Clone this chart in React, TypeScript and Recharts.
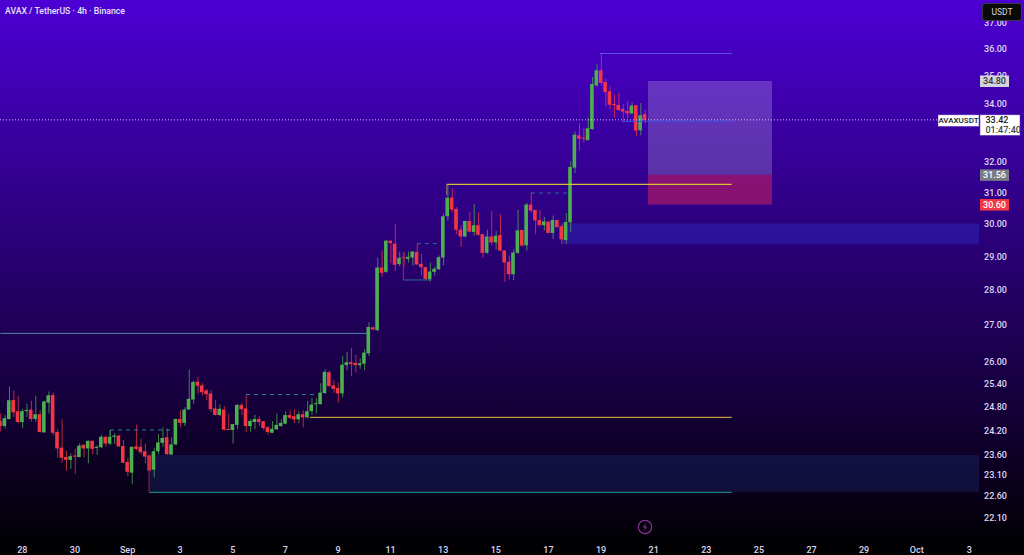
import React from 'react';
import {
  ComposedChart,
  Bar,
  Cell,
  XAxis,
  YAxis,
  ReferenceArea,
  ReferenceLine
} from 'recharts';

// 4h candles, oldest first
const opens = [
  24.43, 24.30, 24.48, 24.97, 24.68, 24.40, 24.68, 24.72, 24.48, 24.60, 24.14, 24.90, 25.10, 24.15, 23.76, 23.53,
  23.46, 23.55, 23.53, 23.83, 23.74, 23.93, 23.75, 23.77, 24.03, 23.86, 24.03, 24.06, 23.80, 23.41, 23.15, 23.79,
  23.78, 23.67, 23.57, 23.22, 23.67, 23.88, 24.02, 23.59, 23.84, 24.48, 24.38, 24.72, 24.98, 25.45, 25.35, 25.22,
  25.14, 24.75, 24.58, 24.72, 24.22, 24.20, 24.33, 24.84, 24.75, 24.30, 24.40, 24.48, 24.42, 24.27, 24.13, 24.22,
  24.30, 24.36, 24.58, 24.55, 24.47, 24.60, 24.52, 24.68, 24.86, 24.86, 25.15, 25.70, 25.35, 25.28, 25.14, 25.89,
  25.97, 25.95, 25.89, 25.93, 26.21, 26.93, 26.85, 28.66, 28.53, 29.47, 29.38, 28.76, 28.96, 28.92, 28.96, 29.13,
  28.77, 28.67, 28.31, 28.53, 28.61, 28.96, 30.23, 30.82, 30.46, 29.81, 29.60, 30.08, 29.74, 29.95, 29.67, 29.10,
  29.60, 29.42, 29.64, 29.17, 28.83, 28.46, 29.10, 29.80, 29.33, 30.60, 30.43, 30.11, 29.95, 30.06, 29.71, 30.11,
  29.92, 29.49, 30.04, 31.80, 32.89, 32.80, 32.72, 33.10, 34.64, 35.19, 34.76, 34.43, 33.97, 33.94, 33.80, 33.73,
  33.64, 33.93, 33.06, 33.62
];
const highs = [
  24.62, 24.58, 25.32, 25.22, 25.07, 24.74, 24.87, 24.95, 25.07, 24.70, 24.95, 25.19, 25.17, 24.22, 24.47, 23.68,
  23.62, 23.73, 23.87, 23.84, 23.94, 23.94, 23.82, 24.08, 24.04, 24.20, 24.12, 24.08, 23.95, 23.51, 23.79, 24.33,
  23.98, 23.86, 23.58, 23.76, 24.10, 24.27, 24.24, 24.02, 24.49, 24.70, 24.78, 25.77, 25.48, 25.58, 25.41, 25.26,
  25.23, 24.96, 24.85, 24.81, 24.60, 24.35, 24.87, 24.89, 25.11, 24.47, 24.59, 24.55, 24.43, 24.30, 24.43, 24.62,
  24.48, 24.68, 24.72, 24.72, 24.68, 24.70, 24.94, 25.02, 25.02, 25.41, 25.78, 25.74, 25.48, 25.42, 26.14, 26.25,
  26.36, 26.17, 26.07, 26.33, 27.07, 26.95, 28.95, 29.17, 29.50, 29.48, 29.98, 29.14, 29.12, 29.14, 29.15, 29.38,
  29.07, 28.67, 28.80, 28.68, 29.02, 30.31, 31.22, 31.12, 30.52, 29.95, 30.10, 30.36, 30.62, 30.35, 29.67, 29.81,
  30.39, 29.77, 30.29, 29.18, 29.02, 29.21, 30.43, 29.80, 30.66, 30.98, 30.43, 30.43, 30.21, 30.06, 30.25, 30.11,
  30.00, 30.33, 32.00, 33.02, 33.29, 33.14, 33.50, 34.94, 35.41, 35.80, 34.88, 34.60, 34.31, 34.38, 33.97, 34.08,
  34.03, 33.93, 34.01, 33.78
];
const lows = [
  24.16, 24.23, 24.47, 24.53, 24.37, 24.25, 24.53, 24.41, 24.41, 24.14, 24.14, 24.62, 24.06, 23.51, 23.39, 23.20,
  23.24, 23.12, 23.52, 23.52, 23.38, 23.60, 23.58, 23.75, 23.78, 23.82, 23.85, 23.78, 23.38, 23.06, 22.87, 23.70,
  23.60, 23.38, 23.20, 23.03, 23.60, 23.78, 23.58, 23.58, 23.81, 24.27, 24.30, 24.72, 24.87, 25.14, 25.10, 24.97,
  24.66, 24.57, 24.55, 24.18, 24.20, 23.86, 24.22, 24.58, 24.15, 24.16, 24.22, 24.30, 24.20, 24.09, 24.12, 24.20,
  24.28, 24.34, 24.48, 24.38, 24.37, 24.27, 24.50, 24.58, 24.62, 24.85, 25.13, 25.32, 25.16, 24.90, 25.03, 25.75,
  25.60, 25.69, 25.79, 25.75, 26.14, 26.85, 26.83, 28.38, 28.50, 28.79, 28.55, 28.70, 28.68, 28.81, 28.72, 28.74,
  28.43, 28.30, 28.24, 28.42, 28.58, 28.73, 30.10, 30.36, 29.67, 29.28, 29.58, 29.73, 29.63, 29.63, 28.95, 29.07,
  29.33, 29.20, 29.15, 28.24, 28.30, 28.28, 29.07, 29.30, 29.16, 30.33, 29.67, 29.94, 29.79, 29.69, 29.52, 29.88,
  29.36, 29.38, 29.74, 31.62, 32.37, 32.64, 32.72, 33.08, 34.60, 34.64, 33.90, 33.79, 33.50, 33.75, 33.33, 33.47,
  33.63, 32.85, 32.89, 33.29
];
const closes = [
  24.30, 24.50, 24.96, 24.65, 24.40, 24.68, 24.71, 24.48, 24.60, 24.15, 24.93, 25.09, 24.13, 23.74, 23.51, 23.46,
  23.55, 23.54, 23.81, 23.74, 23.93, 23.73, 23.78, 24.03, 23.86, 24.03, 24.06, 23.79, 23.39, 23.17, 23.78, 23.73,
  23.65, 23.54, 23.20, 23.67, 23.89, 24.00, 23.60, 23.84, 24.48, 24.38, 24.72, 25.00, 25.44, 25.34, 25.17, 25.12,
  24.73, 24.58, 24.74, 24.21, 24.20, 24.35, 24.84, 24.73, 24.30, 24.43, 24.48, 24.40, 24.25, 24.15, 24.23, 24.33,
  24.38, 24.58, 24.51, 24.47, 24.60, 24.52, 24.68, 24.85, 24.88, 25.16, 25.71, 25.33, 25.26, 25.14, 25.90, 25.97,
  25.92, 25.89, 25.94, 26.23, 26.94, 26.87, 28.66, 28.50, 29.47, 29.40, 28.74, 28.95, 28.94, 28.98, 29.14, 28.75,
  28.67, 28.32, 28.54, 28.62, 28.97, 30.23, 30.82, 30.44, 29.81, 29.60, 30.08, 29.75, 29.95, 29.65, 29.10, 29.60,
  29.42, 29.62, 29.17, 28.81, 28.46, 29.11, 29.79, 29.32, 30.60, 30.41, 30.10, 29.95, 30.07, 29.71, 30.11, 29.89,
  29.51, 30.05, 31.82, 32.91, 32.77, 32.77, 33.13, 34.69, 35.19, 34.73, 34.40, 33.95, 33.94, 33.76, 33.71, 33.65,
  33.92, 33.05, 33.58, 33.42
];

const candles = opens.map((open, i) => ({
  i,
  open,
  close: closes[i],
  wick: [lows[i], highs[i]],
  body: [Math.min(open, closes[i]), Math.max(open, closes[i])]
}));

const dateTicks = [5, 17, 29, 41, 53, 65, 77, 89, 101, 113, 125, 137, 149, 161, 173, 185, 197, 209, 221];
const dateLabels = ['28', '30', 'Sep', '3', '5', '7', '9', '11', '13', '15', '17', '19', '21', '23', '25', '27', '29', 'Oct', '3'];

const priceLabels = [37, 36, 35, 34, 32, 31, 30, 29, 28, 27, 26, 25.4, 24.8, 24.2, 23.6, 23.1, 22.6, 22.1];
const positionTarget = 34.8;
const positionEntry = 31.56;
const positionStop = 30.6;
const lastPrice = 33.42;
const countdown = '01:47:40';

const GREEN = '#4caf50';
const RED = '#f23645';
const ids = { xAxisId: 'body', yAxisId: 'price' };
const FONT = { fontFamily: 'Roboto, sans-serif', fontSize: 9, fontWeight: 500 };

const PriceTick = ({ y, payload }: any) => {
  const v = payload.value;
  const label = v.toFixed(2);
  const left = 980;
  if (v === lastPrice) {
    return (
      <g>
        <rect x={938} y={y - 5} width={41} height={11.5} fill="#fff" stroke="#6a30c0" strokeWidth={0.5} />
        <text x={958.5} y={y + 3.5} textAnchor="middle" fill="#222" style={{ ...FONT, fontSize: 8 }}>AVAXUSDT</text>
        <rect x={left} y={y - 5} width={40} height={20.5} fill="#fff" stroke="#6a30c0" strokeWidth={0.5} />
        <text x={985.5} y={y + 3.5} fill="#222" style={FONT}>{label}</text>
        <text x={985.5} y={y + 13} fill="#444" style={FONT}>{countdown}</text>
      </g>
    );
  }
  const tags: Record<number, [string, string]> = {
    [positionTarget]: ['#d1d4dc', '#333'],
    [positionEntry]: ['#787b86', '#fff'],
    [positionStop]: [RED, '#fff']
  };
  if (tags[v]) {
    return (
      <g>
        <rect x={left} y={y - 5.5} width={29} height={11.5} fill={tags[v][0]} />
        <text x={994.5} y={y + 3.5} textAnchor="middle" fill={tags[v][1]} style={FONT}>{label}</text>
      </g>
    );
  }
  return <text x={995.5} y={y + 3.5} textAnchor="middle" fill="#ded6f2" style={FONT}>{label}</text>;
};

const DateTick = ({ x, y, payload }: any) => (
  <text x={x} y={y + 10} textAnchor="middle" fill="#ded6f2" style={FONT}>
    {dateLabels[dateTicks.indexOf(payload.value)]}
  </text>
);

export default function App() {
  return (
    <div style={{ position: 'absolute', left: 0, top: 0, width: 1024, height: 555, overflow: 'hidden', background: 'linear-gradient(180deg, #4c00d4 0%, #000 100%)' }}>
      <ComposedChart width={1024} height={555} data={candles} margin={{ top: 0, right: 0, bottom: 0, left: 0 }}>
        <XAxis xAxisId="body" type="number" dataKey="i" domain={[-0.09, 223.2]} allowDataOverflow ticks={dateTicks} interval={0} tick={<DateTick />} tickLine={false} axisLine={false} height={20} />
        <XAxis xAxisId="wick" type="number" dataKey="i" domain={[-0.09, 223.2]} allowDataOverflow hide />
        <YAxis
          yAxisId="price"
          orientation="right"
          scale="log"
          domain={[21.695, 37.86]}
          allowDataOverflow
          ticks={[...priceLabels, positionTarget, positionEntry, positionStop, lastPrice]}
          interval={0}
          tick={<PriceTick />}
          tickLine={false}
          axisLine={false}
          width={45}
        />

        {/* drawings under the candles */}
        <ReferenceArea {...ids} x1={33.9} x2={223.2} y1={22.68} y2={23.58} fill="#2a48b0" fillOpacity={0.22} stroke="none" />
        <ReferenceArea {...ids} x1={128.1} x2={223.2} y1={29.36} y2={30.0} fill="#2a3cdc" fillOpacity={0.32} stroke="none" />
        <ReferenceLine {...ids} segment={[{ x: 0, y: 26.76 }, { x: 83.6, y: 26.76 }]} stroke="#4f86a8" strokeWidth={1} />
        <ReferenceLine {...ids} segment={[{ x: 70.6, y: 24.52 }, { x: 166.8, y: 24.52 }]} stroke="#c09a38" strokeWidth={1.2} />
        <ReferenceLine {...ids} segment={[{ x: 33.9, y: 22.68 }, { x: 166.8, y: 22.68 }]} stroke="#1f9a94" strokeWidth={1} />
        <ReferenceLine {...ids} segment={[{ x: 33.9, y: 22.68 }, { x: 33.9, y: 23.58 }]} stroke="#8a2a4a" strokeWidth={1} />
        <ReferenceLine {...ids} segment={[{ x: 25, y: 24.2 }, { x: 39.4, y: 24.2 }]} stroke="#1f8a90" strokeDasharray="4 4" />
        <ReferenceLine {...ids} segment={[{ x: 25, y: 24.2 }, { x: 25, y: 24.03 }]} stroke="#2c8a5a" />
        <ReferenceLine {...ids} segment={[{ x: 56, y: 25.11 }, { x: 72, y: 25.11 }]} stroke="#1f8a90" strokeDasharray="4 4" />
        <ReferenceLine {...ids} segment={[{ x: 95, y: 29.38 }, { x: 100.6, y: 29.38 }]} stroke="#2f6f9a" strokeDasharray="4 4" />
        <ReferenceLine {...ids} segment={[{ x: 121, y: 30.97 }, { x: 129.7, y: 30.97 }]} stroke="#2f6f9a" strokeDasharray="4 4" />
        <ReferenceLine {...ids} segment={[{ x: 91.9, y: 28.29 }, { x: 98.2, y: 28.29 }]} stroke="#2f6f9a" />
        <ReferenceLine {...ids} segment={[{ x: 91.9, y: 28.29 }, { x: 91.9, y: 29.12 }]} stroke="#a02a60" />
        <ReferenceLine {...ids} segment={[{ x: 101.8, y: 31.25 }, { x: 166.8, y: 31.25 }]} stroke="#d6c232" strokeWidth={1.2} />
        <ReferenceLine {...ids} segment={[{ x: 101.8, y: 31.25 }, { x: 101.8, y: 30.9 }]} stroke="#8a7a70" strokeWidth={1} />
        <ReferenceLine {...ids} segment={[{ x: 136.7, y: 35.81 }, { x: 166.8, y: 35.81 }]} stroke="#5f50e0" strokeWidth={1} />
        <ReferenceLine {...ids} segment={[{ x: 141.8, y: 33.37 }, { x: 166.8, y: 33.37 }]} stroke="#3a50e8" strokeWidth={1} />

        <Bar xAxisId="wick" yAxisId="price" dataKey="wick" barSize={1} isAnimationActive={false}>
          {candles.map(c => <Cell key={c.i} fill={c.close >= c.open ? GREEN : RED} fillOpacity={0.75} />)}
        </Bar>
        <Bar xAxisId="body" yAxisId="price" dataKey="body" barSize={3.6} minPointSize={1} isAnimationActive={false}>
          {candles.map(c => <Cell key={c.i} fill={c.close >= c.open ? GREEN : RED} />)}
        </Bar>

        {/* long position box and last price go over the candles */}
        <ReferenceArea {...ids} x1={147.7} x2={176} y1={positionEntry} y2={positionTarget} fill="#ffffff" fillOpacity={0.2} stroke="none" />
        <ReferenceArea {...ids} x1={147.7} x2={176} y1={positionStop} y2={positionEntry} fill="#ff2a50" fillOpacity={0.42} stroke="none" />
        <ReferenceLine {...ids} y={lastPrice} stroke="#cfc6ea" strokeDasharray="1 2" strokeWidth={1} />
      </ComposedChart>

      <div style={{ position: 'absolute', left: 5, top: 5, color: '#e8e0fa', fontFamily: 'Roboto, sans-serif', fontSize: 8.7, lineHeight: '13px', fontWeight: 500, whiteSpace: 'nowrap' }}>
        AVAX / TetherUS · 4h · Binance
      </div>
      <div style={{ position: 'absolute', left: 982, top: 3, width: 38, height: 16, lineHeight: '16px', textAlign: 'center', background: '#0a0a0a', border: '0.5px solid #3a3a44', borderRadius: 3, color: '#d8d8d8', fontFamily: 'Roboto, sans-serif', fontSize: 8.5 }}>
        USDT
      </div>
      <svg style={{ position: 'absolute', left: 636, top: 518 }} width={18} height={18}>
        <circle cx={9} cy={9} r={6.7} fill="none" stroke="#86308f" strokeWidth={1.2} />
        <path d="M10 5 L6.8 9.6 H9 L8 13 L11.2 8.4 H9 Z" fill="#86308f" />
      </svg>
    </div>
  );
}
